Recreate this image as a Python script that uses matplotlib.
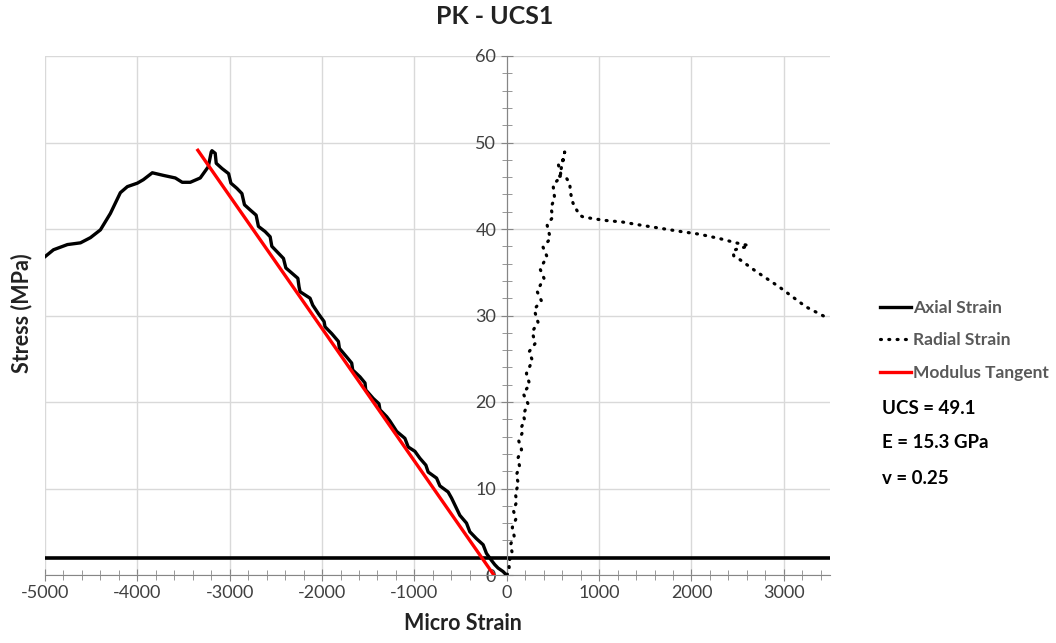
import matplotlib
matplotlib.use("Agg")
import matplotlib.pyplot as plt
from matplotlib.ticker import MultipleLocator

plt.rcParams['font.family'] = ['Lato', 'DejaVu Sans']
plt.rcParams['axes.unicode_minus'] = False

# axial strain (micro strain, MPa) from start of loading to end
axial_x = [0, -4, -40, -94, -130, -166, -220, -256, -328, -400, -436, -508, -544,
           -598, -635, -724, -760, -851, -876, -941, -995, -1067, -1103, -1192,
           -1265, -1300, -1373, -1384, -1445, -1527, -1535, -1589, -1668, -1679,
           -1733, -1812, -1823, -1895, -1968, -1978, -2039, -2101, -2130, -2238,
           -2249, -2262, -2327, -2392, -2418, -2472, -2544, -2562, -2616, -2689,
           -2714, -2778, -2840, -2868, -2922, -2987, -3012, -3084, -3146, -3157,
           -3192, -3200, -3232, -3319, -3427, -3514, -3589, -3719, -3838, -3935,
           -4000, -4108, -4184, -4292, -4400, -4508, -4616, -4757, -4908, -5000]
axial_y = [0.0, 0.0, 0.4, 0.8, 1.2, 1.7, 2.5, 3.5, 4.2, 5.0, 6.0, 6.9, 7.7,
           8.9, 9.6, 10.3, 11.2, 11.9, 12.7, 13.5, 14.3, 14.8, 15.8, 16.6,
           17.8, 18.3, 19.1, 19.8, 20.4, 21.4, 22.2, 22.9, 23.7, 24.5,
           25.2, 26.2, 27.0, 27.9, 28.7, 29.3, 30.2, 31.2, 32.0, 32.75,
           33.3, 34.3, 34.9, 35.5, 36.6, 37.2, 38.0, 39.1, 39.7, 40.3,
           41.6, 42.2, 42.8, 44.1, 44.7, 45.3, 46.4, 47.0, 47.6, 48.75,
           49.05, 48.9, 47.2, 45.9, 45.4, 45.4, 45.9, 46.2, 46.5, 45.7,
           45.3, 44.9, 44.2, 41.8, 39.9, 39.0, 38.4, 38.2, 37.6, 36.8]

# radial strain (micro strain, MPa)
radial_x = [0, 30, 20, 60, 40, 80, 60, 100, 70, 110, 90, 130, 100, 140, 120,
            160, 130, 170, 159, 195, 177, 230, 177, 249, 213, 278, 241, 310,
            274, 339, 296, 375, 328, 403, 364, 393, 436, 393, 472, 436,
            501, 476, 519, 501, 555, 584, 555, 609, 627, 616, 573, 645, 681,
            692, 717, 746, 789, 825, 933, 1059, 1257, 1419, 1888, 2086, 2303,
            2483, 2591, 2620, 2555, 2501, 2447, 2458, 2519, 2699, 2951, 3240,
            3474]
radial_y = [0.0, 0.5, 1.5, 2.5, 3.5, 4.5, 5.5, 6.5, 7.5, 8.5, 9.5, 10.5, 11.5,
            12.5, 13.5, 14.5, 15.5, 16.5, 17.1, 17.9, 18.5, 19.8, 21.0, 22.0,
            23.3, 24.8, 25.8, 26.8, 28.1, 29.2, 30.7, 31.7, 32.8, 34.3, 35.3,
            36.0, 36.8, 37.9, 38.9, 40.5, 41.4, 42.5, 43.5, 45.1, 45.7,
            46.4, 47.6, 47.9, 48.9, 48.4, 46.1, 45.9, 45.3, 44.1, 43.0, 42.4,
            41.6, 41.4, 41.2, 41.0, 40.8, 40.5, 39.7, 39.4, 38.9, 38.4, 38.15,
            38.0, 37.85, 37.7, 37.5, 36.9, 36.5, 35.1, 33.3, 31.0, 29.7]

# tangent modulus line
tangent_x = [-3345, -140]
tangent_y = [49.1, 0.0]

baseline = 2.0
notes = ["UCS = 49.1", "E = 15.3 GPa", "v = 0.25"]

fig = plt.figure(figsize=(10.56, 6.43), dpi=100)
ax = fig.add_axes([45 / 1056, 1 - 575 / 643, 785 / 1056, 519 / 643])

ax.plot(axial_x, axial_y, color='black', lw=2.4, label='Axial Strain', zorder=3)
ax.plot(radial_x, radial_y, color='black', lw=2.3, linestyle=(0, (0.3, 2.3)),
        dash_capstyle='round', label='Radial Strain', zorder=3)
ax.plot(tangent_x, tangent_y, color='#ff0000', lw=2.4, label='Modulus Tangent', zorder=4)
ax.axhline(baseline, color='black', lw=2.6, zorder=2)

ax.set_xlim(-5000, 3500)
ax.set_ylim(0, 60)
ax.xaxis.set_major_locator(MultipleLocator(1000))
ax.xaxis.set_minor_locator(MultipleLocator(200))
ax.yaxis.set_major_locator(MultipleLocator(10))
ax.yaxis.set_minor_locator(MultipleLocator(2))
ax.grid(True, which='major', color='#d9d9d9', lw=1, zorder=0)

for s in ['top', 'right']:
    ax.spines[s].set_visible(False)
ax.spines['left'].set_position(('data', 0))
ax.spines['left'].set_color('#868686')
ax.spines['bottom'].set_color('#868686')
ax.tick_params(which='both', direction='inout', color='#868686', labelsize=13,
               labelcolor='#404040')
ax.tick_params(which='major', length=8)
ax.tick_params(which='minor', length=7)

fig.text(495 / 1056, 1 - 17 / 643, 'PK - UCS1', ha='center', va='center',
         fontsize=18, fontweight='bold', color='#222222')
fig.text(463 / 1056, 1 - 623 / 643, 'Micro Strain', ha='center', va='center',
         fontsize=15.5, fontweight='bold', color='#222222')
fig.text(22 / 1056, 1 - 313 / 643, 'Stress (MPa)', ha='center', va='center',
         rotation=90, fontsize=15.5, fontweight='bold', color='#222222')

leg = fig.legend(loc='upper left', bbox_to_anchor=(864 / 1056, 1 - 284 / 643),
                 frameon=False, handlelength=1.8, handletextpad=0.1,
                 labelspacing=0.95, prop={'weight': 'bold', 'size': 12.5})
for t in leg.get_texts():
    t.set_color('#595959')

for i, n in enumerate(notes):
    fig.text(882 / 1056, 1 - (408 + 35 * i) / 643, n, ha='left', va='center',
             fontsize=13.5, fontweight='bold', color='black')

fig.savefig('out.png', dpi=100)
